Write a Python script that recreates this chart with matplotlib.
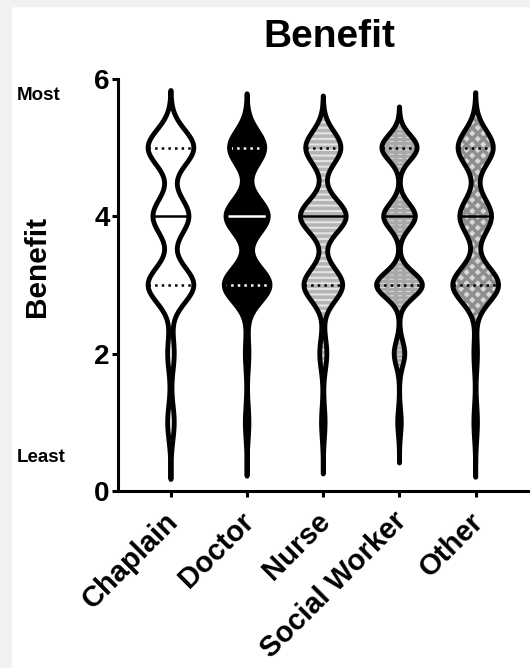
import numpy as np
import matplotlib.pyplot as plt
from matplotlib.patches import Rectangle

plt.rcParams['font.family'] = ['Liberation Sans', 'DejaVu Sans']
plt.rcParams['font.weight'] = 'bold'
plt.rcParams['hatch.linewidth'] = 2.5

# Likert responses (1 = least ... 5 = most), counts
categories = ['Chaplain', 'Doctor', 'Nurse', 'Social Worker', 'Other']
levels = np.array([1, 2, 3, 4, 5])
chaplain_counts = [2, 2, 14, 11, 14]
doctor_counts = [1, 1, 13, 12, 10]
nurse_counts = [1, 2, 11, 13, 10]
social_counts = [1, 3, 13, 9, 10]
other_counts = [1, 1, 13, 9, 10]
all_counts = [chaplain_counts, doctor_counts, nurse_counts, social_counts, other_counts]

# kernel bandwidth per group (smoothing of the violin)
bandwidths = [0.26, 0.245, 0.235, 0.185, 0.25]
cut = 3.2
yticks = [0, 2, 4, 6]

# fill styles: (face, hatch, hatch colour, median/quartile line colour)
styles = [
    ('white', None, 'white', 'black'),
    ('black', None, 'black', 'white'),
    ('#e4e4e4', '---', '#b4b4b4', 'black'),
    ('#f0f0f0', '----||', '#a8a8a8', 'black'),
    ('#d8d8d8', 'xxx', '#8e8e8e', 'black'),
]

W, H = 530, 668
fig = plt.figure(figsize=(W / 100, H / 100), dpi=100)
fig.add_artist(Rectangle((0, 0), 11 / W, 1, transform=fig.transFigure,
                         color='#f0f1f3', zorder=-5))
fig.add_artist(Rectangle((0, 1 - 6 / H), 1, 6 / H, transform=fig.transFigure,
                         color='#f0f1f3', zorder=-5))

ax = fig.add_axes([118 / W, 177 / H, 411 / W, 412 / H])


def kde(y, counts, bw):
    d = np.zeros_like(y)
    for lv, c in zip(levels, counts):
        d += c * np.exp(-0.5 * ((y - lv) / bw) ** 2)
    return d


for i, counts in enumerate(all_counts):
    pos = i + 1
    data = np.repeat(levels, counts)
    bw = bandwidths[i]
    y = np.linspace(data.min() - cut * bw, data.max() + cut * bw, 600)
    d = kde(y, counts, bw)
    half = 0.3 * d / d.max()
    xs = np.concatenate([pos - half, (pos + half)[::-1]])
    ys = np.concatenate([y, y[::-1]])

    face, hatch, hcol, lc = styles[i]
    body = ax.fill(xs, ys, facecolor=face, edgecolor=hcol, lw=0, hatch=hatch, zorder=2)[0]
    if hatch and hasattr(body, 'set_hatch_linewidth'):
        body.set_hatch_linewidth(2.5)

    q1, med, q3 = np.percentile(data, [25, 50, 75])
    for q, ls in ((q1, ':'), (med, '-'), (q3, ':')):
        hw = np.interp(q, y, half)
        ax.plot([pos - hw, pos + hw], [q, q], color=lc, ls=ls, lw=1.8, zorder=3)

    ax.fill(xs, ys, facecolor='none', edgecolor='black', lw=3.5,
            joinstyle='round', zorder=4)

    # category label, rotated 45 deg and hanging from the tick
    ax.annotate(categories[i], xy=(pos, 0), xycoords=('data', 'axes fraction'),
                xytext=(-7 * 0.72, -16 * 0.72), textcoords='offset points',
                rotation=45, ha='right', va='top', rotation_mode='anchor',
                fontsize=21, fontweight='bold', annotation_clip=False)

ax.set_xlim(0.305, 5.7)
ax.set_ylim(0, 6)
ax.set_yticks(yticks)
ax.set_xticks(range(1, len(categories) + 1))
ax.set_xticklabels([])
ax.spines[['top', 'right']].set_visible(False)
for s in ('left', 'bottom'):
    ax.spines[s].set_linewidth(2.2)
ax.tick_params(axis='y', width=2.2, length=4.5, labelsize=20, pad=1.5)
ax.tick_params(axis='x', width=2.2, length=4.5)
ax.set_facecolor('none')

fig.text(329 / W, 1 - 47 / H, 'Benefit', fontsize=28, fontweight='bold',
         ha='center', va='baseline')
fig.text(37 / W, 1 - 266 / H, 'Benefit', fontsize=21.5, fontweight='bold',
         rotation=90, ha='center', va='center')
fig.text(17 / W, 1 - 95 / H, 'Most', fontsize=13.5, fontweight='bold',
         ha='left', va='center')
fig.text(17 / W, 1 - 457 / H, 'Least', fontsize=13.5, fontweight='bold',
         ha='left', va='center')

fig.savefig('out.png', dpi=100, facecolor='white')
